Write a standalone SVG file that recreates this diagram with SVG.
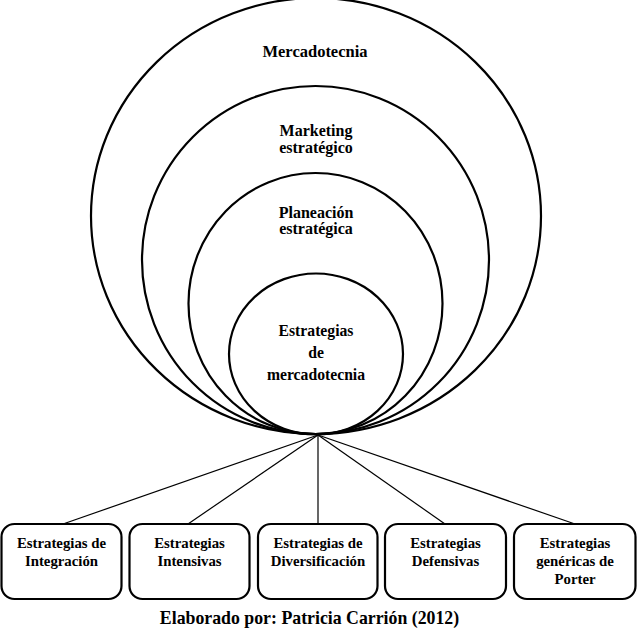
<svg xmlns="http://www.w3.org/2000/svg" width="641" height="629" viewBox="0 0 641 629">
<style>
.c{fill:none;stroke:#000;stroke-width:2.2}
.b{fill:#fff;stroke:#000;stroke-width:2.2}
.l{stroke:#000;stroke-width:1.2;fill:none}
text{font-family:"Liberation Serif","Times New Roman",serif;font-weight:bold;fill:#000;text-anchor:middle}
.m{font-size:16.5px}
.p{font-size:16px}
.t{font-size:15.7px}
.s{font-size:14.8px}
.f{font-size:17.8px}
</style>
<rect width="641" height="629" fill="#fff"/>
<g id="mercadotecnia">
<ellipse class="c" cx="316" cy="216" rx="225" ry="218"/>
<text class="m" x="315" y="57">Mercadotecnia</text>
</g>
<g id="marketing-estrategico">
<ellipse class="c" cx="315.5" cy="260" rx="173.5" ry="174"/>
<text class="p" x="316" y="136">Marketing</text>
<text class="p" x="316" y="153">estratégico</text>
</g>
<g id="planeacion-estrategica">
<ellipse class="c" cx="315.5" cy="303.5" rx="127" ry="130.5"/>
<text class="p" x="316" y="218">Planeación</text>
<text class="p" x="316" y="234">estratégica</text>
</g>
<g id="estrategias-mercadotecnia">
<ellipse class="c" cx="316" cy="354" rx="87" ry="80.5"/>
<text class="t" x="316" y="336">Estrategias</text>
<text class="t" x="316" y="358">de</text>
<text class="t" x="316" y="380">mercadotecnia</text>
</g>
<g id="connectors">
<line class="l" x1="318" y1="435" x2="63" y2="524"/>
<line class="l" x1="318" y1="435" x2="188" y2="524"/>
<line class="l" x1="318" y1="435" x2="318" y2="524"/>
<line class="l" x1="318" y1="435" x2="445" y2="524"/>
<line class="l" x1="318" y1="435" x2="575" y2="524"/>
</g>
<g id="box-integracion">
<rect class="b" x="1.5" y="524" width="120" height="75" rx="13"/>
<text class="s" x="61.5" y="548">Estrategias de</text>
<text class="s" x="61.5" y="566">Integración</text>
</g>
<g id="box-intensivas">
<rect class="b" x="129.5" y="524" width="120" height="75" rx="13"/>
<text class="s" x="189.5" y="548">Estrategias</text>
<text class="s" x="189.5" y="566">Intensivas</text>
</g>
<g id="box-diversificacion">
<rect class="b" x="258" y="524" width="119.5" height="75" rx="13"/>
<text class="s" x="318" y="548">Estrategias de</text>
<text class="s" x="318" y="566">Diversificación</text>
</g>
<g id="box-defensivas">
<rect class="b" x="385" y="524" width="121" height="75" rx="13"/>
<text class="s" x="445.5" y="548">Estrategias</text>
<text class="s" x="445.5" y="566">Defensivas</text>
</g>
<g id="box-porter">
<rect class="b" x="514" y="524" width="121.5" height="75" rx="13"/>
<text class="s" x="575" y="548">Estrategias</text>
<text class="s" x="575" y="566">genéricas de</text>
<text class="s" x="575" y="584">Porter</text>
</g>
<text class="f" x="309.5" y="624">Elaborado por: Patricia Carrión (2012)</text>
</svg>
